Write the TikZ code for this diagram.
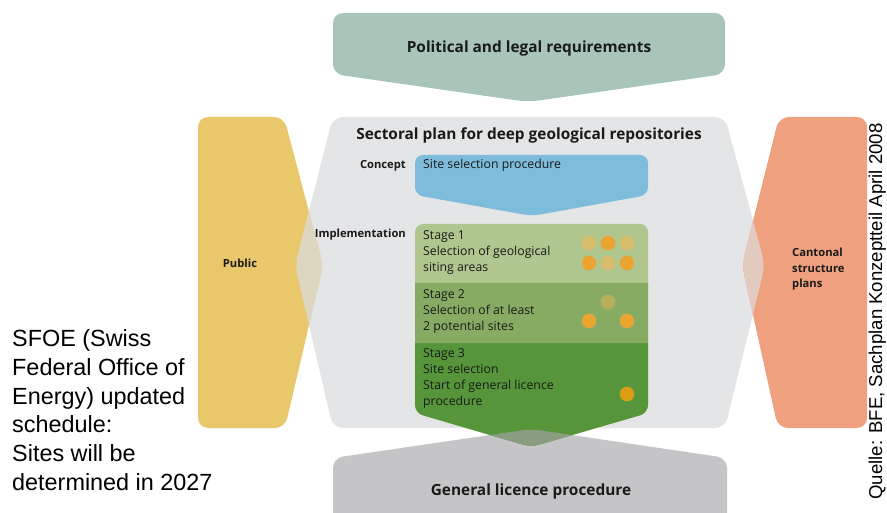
\documentclass[tikz,border=0pt]{standalone}
\usepackage{fontspec}
\setmainfont{Open Sans}
\newfontfamily\arialf{Liberation Sans}
\definecolor{polc}{HTML}{A9C5B9}
\definecolor{grayc}{HTML}{E4E5E7}
\definecolor{yelc}{HTML}{E9C76B}
\definecolor{orac}{HTML}{EFA07E}
\definecolor{ovy}{HTML}{DDD6C0}
\definecolor{ovo}{HTML}{E2CABF}
\definecolor{bluc}{HTML}{7DBCDA}
\definecolor{stA}{HTML}{AFC78F}
\definecolor{stB}{HTML}{87AB62}
\definecolor{stC}{HTML}{56953A}
\definecolor{botc}{HTML}{C5C5C7}
\definecolor{ovg}{HTML}{8A9D80}
\definecolor{dotor}{HTML}{E9A431}
\definecolor{dotfa}{HTML}{D6BE6C}
\definecolor{dotol}{HTML}{B9AE5A}
\definecolor{dotdk}{HTML}{D99E14}
\definecolor{txt}{HTML}{1A1A1A}
\tikzset{
  polshape/.style={insert path={(333,13) -- (725,13) -- (725,74) -- (528,102) -- (333,74) -- cycle}},
  grayshape/.style={insert path={(333,117) -- (725,117) -- (765,265) -- (725,428) -- (333,428) -- (295,265) -- cycle}},
  yelshape/.style={insert path={(198,117) -- (284,117) -- (323,265) -- (285,428) -- (198,428) -- cycle}},
  orashape/.style={insert path={(779,117) -- (867,117) -- (867,428) -- (778,428) -- (742,265) -- cycle}},
  blushape/.style={insert path={(415,155) -- (648,155) -- (648,195) -- (532,216) -- (415,195) -- cycle}},
  grnshape/.style={insert path={(415,224) -- (648,224) -- (648,413) -- (531,447) -- (415,413) -- cycle}},
  botshape/.style={insert path={(333,458) -- (531,429) -- (727,458) -- (727,560) -- (333,560) -- cycle}},
  rc/.style={rounded corners=10pt},
  head/.style={inner sep=0pt, text=txt, font=\fontsize{15.4}{18}\bfseries},
  lab/.style={inner sep=0pt, text=txt, font=\fontsize{11.2}{16}\bfseries},
  small/.style={inner sep=0pt, text=txt, align=left, font=\fontsize{12.3}{16}\selectfont},
  dot/.style={radius=7.3pt},
}
\begin{document}
\begin{tikzpicture}[x=1pt,y=-1pt]
\clip (0,0) rectangle (887,513);
\fill[white] (0,0) rectangle (887,513);
% side and central shapes
\fill[grayc, rc, grayshape];
\fill[yelc, rc, yelshape];
\fill[orac, rc, orashape];
\begin{scope}
  \clip[rc, yelshape];
  \fill[ovy, rc, grayshape];
\end{scope}
\begin{scope}
  \clip[rc, orashape];
  \fill[ovo, rc, grayshape];
\end{scope}
% top and bottom
\fill[polc, rc, polshape];
\fill[botc, rc, botshape];
\fill[bluc, rounded corners=8pt, blushape];
% stages
\fill[stA, rounded corners=8pt, grnshape];
\begin{scope}
  \clip[rounded corners=8pt, grnshape];
  \fill[stB] (400,283) rectangle (660,343);
  \fill[stC] (400,343) rectangle (660,460);
  \begin{scope}
    \clip[rc, botshape];
    \fill[ovg] (400,400) rectangle (660,460);
  \end{scope}
\end{scope}
% dots
\fill[dotfa] (589,243) circle[dot];
\fill[dotor] (608,243) circle[dot];
\fill[dotfa] (627,243) circle[dot];
\fill[dotor] (589,263) circle[dot];
\fill[dotfa] (608,263) circle[dot];
\fill[dotor] (627,263) circle[dot];
\fill[dotol] (608,302) circle[dot];
\fill[dotor] (589,321) circle[dot];
\fill[dotor] (627,321) circle[dot];
\fill[dotdk] (627,394) circle[dot];
% texts
\node[head, anchor=base] (pol) at (529,53) {Political and legal requirements};
\node[head, anchor=base] (sect) at (529,140) {Sectoral plan for deep geological repositories};
\node[head, anchor=base] (gen) at (531,495) {General licence procedure};
\node[lab, anchor=mid east] (concept) at (406,166) {Concept};
\node[small, anchor=mid west] (site) at (423,166) {Site selection procedure};
\node[lab, anchor=mid east] (impl) at (406,235) {Implementation};
\node[small, anchor=north west] (st1) at (423,230.6) {Stage 1\\Selection of geological\\siting areas};
\node[small, anchor=north west] (st2) at (423,289) {Stage 2\\Selection of at least\\2 potential sites};
\node[small, anchor=north west] (st3) at (423,348) {Stage 3\\Site selection\\Start of general licence\\procedure};
\node[lab, anchor=mid] (pub) at (240,265) {Public};
\node[lab, anchor=north west, align=left, font=\fontsize{11.2}{15.5}\bfseries] (cant) at (792,248) {Cantonal\\structure\\plans};
\node[inner sep=0pt, anchor=north west, align=left, text=black, font=\arialf\fontsize{23.4}{28.7}\selectfont] (sfoe) at (12,329.5) {SFOE (Swiss\\Federal Office of\\Energy) updated\\schedule:\\Sites will be\\determined in 2027};
\node[inner sep=0pt, rotate=90, anchor=base, text=black, font=\arialf\fontsize{18.6}{22}\selectfont] (src) at (882,311.5) {Quelle: BFE, Sachplan Konzeptteil April 2008};
\end{tikzpicture}
\end{document}
